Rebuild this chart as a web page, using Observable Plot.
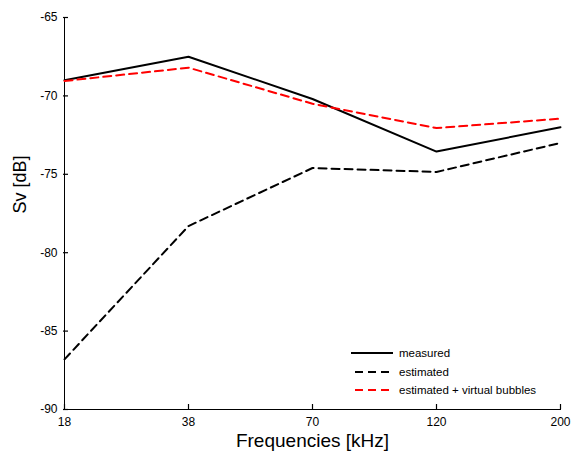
<!DOCTYPE html>
<html><head><meta charset="utf-8">
<script src="https://cdn.jsdelivr.net/npm/d3@7"></script>
<script src="https://cdn.jsdelivr.net/npm/@observablehq/plot@0.6"></script>
<style>
body{margin:0;background:#fff;font-family:"Liberation Sans",Arial,sans-serif;}
#wrap{position:relative;width:572px;height:458px;}
#legend{position:absolute;left:350px;top:344px;font-size:11.5px;color:#000;}
#legend div{height:18.5px;display:flex;align-items:center;}
#legend svg{margin-right:5px;}
</style></head><body>
<div id="wrap"><div id="legend"></div></div>
<script>
const frequencies = ["18", "38", "70", "120", "200"];
const measured = [-69.0, -67.5, -70.2, -73.55, -72.0];
const estimated = [-86.8, -78.3, -74.6, -74.85, -73.0];
const estimatedVirtual = [-69.05, -68.2, -70.5, -72.05, -71.45];
const yTicks = [-90, -85, -80, -75, -70, -65];
const seriesNames = ["measured", "estimated", "estimated + virtual bubbles"];
const seriesColors = ["#000", "#000", "#ff0000"];
const seriesDash = [null, "8,5", "8,5"];

const seriesValues = [measured, estimated, estimatedVirtual];
const rows = seriesValues.flatMap((vals, s) => frequencies.map((f, i) => ({f, v: vals[i], s: seriesNames[s]})));

const W = 572, H = 458, mL = 63, mR = 11, mT = 17, mB = 49;
const tickLen = 5;
const yMin = -90, yMax = -65;
const tickDb = tickLen * (yMax - yMin) / (H - mT - mB);

const chart = Plot.plot({
  width: W, height: H,
  marginLeft: mL, marginRight: mR, marginTop: mT, marginBottom: mB,
  style: {fontFamily: '"Liberation Sans", Arial, sans-serif', fontSize: "12px", background: "#fff", color: "#000"},
  x: {type: "point", domain: frequencies, padding: 0},
  y: {domain: [yMin, yMax]},
  marks: [
    Plot.axisX({ticks: frequencies, tickSize: 0, tickPadding: 8, label: null, fontSize: 12}),
    Plot.axisY({ticks: yTicks, tickSize: 0, tickPadding: 6, label: null, fontSize: 12, tickFormat: d => String(d)}),
    Plot.ruleY(yTicks, {y: d => d, stroke: "#000", strokeWidth: 1.2, insetRight: (W - mL - mR) - tickLen}),
    Plot.ruleX(frequencies, {x: d => d, y1: yMin, y2: yMin + tickDb, stroke: "#000", strokeWidth: 1.2}),
    Plot.ruleY([yMin], {stroke: "#000", strokeWidth: 1}),
    Plot.ruleX([frequencies[0]], {stroke: "#000", strokeWidth: 1}),
    ...seriesNames.map((name, s) => Plot.line(rows.filter(d => d.s === name), {
      x: "f", y: "v", stroke: seriesColors[s], strokeWidth: 2,
      strokeDasharray: seriesDash[s], strokeLinejoin: "miter"
    })),
    Plot.text(["Frequencies [kHz]"], {frameAnchor: "bottom", dy: 37, fontSize: 19, fill: "#000"}),
    Plot.text(["Sv [dB]"], {frameAnchor: "left", dx: -43, rotate: -90, fontSize: 18, fill: "#000"})
  ]
});
document.getElementById("wrap").prepend(chart);

const legend = document.getElementById("legend");
seriesNames.forEach((name, s) => {
  const row = document.createElement("div");
  row.innerHTML = `<svg width="44" height="6"><line x1="1" x2="43" y1="3" y2="3" stroke="${seriesColors[s]}" stroke-width="2" ${seriesDash[s] ? `stroke-dasharray="${seriesDash[s]}" stroke-dashoffset="-4"` : ""}/></svg><span>${name}</span>`;
  legend.appendChild(row);
});
</script>
</body></html>
